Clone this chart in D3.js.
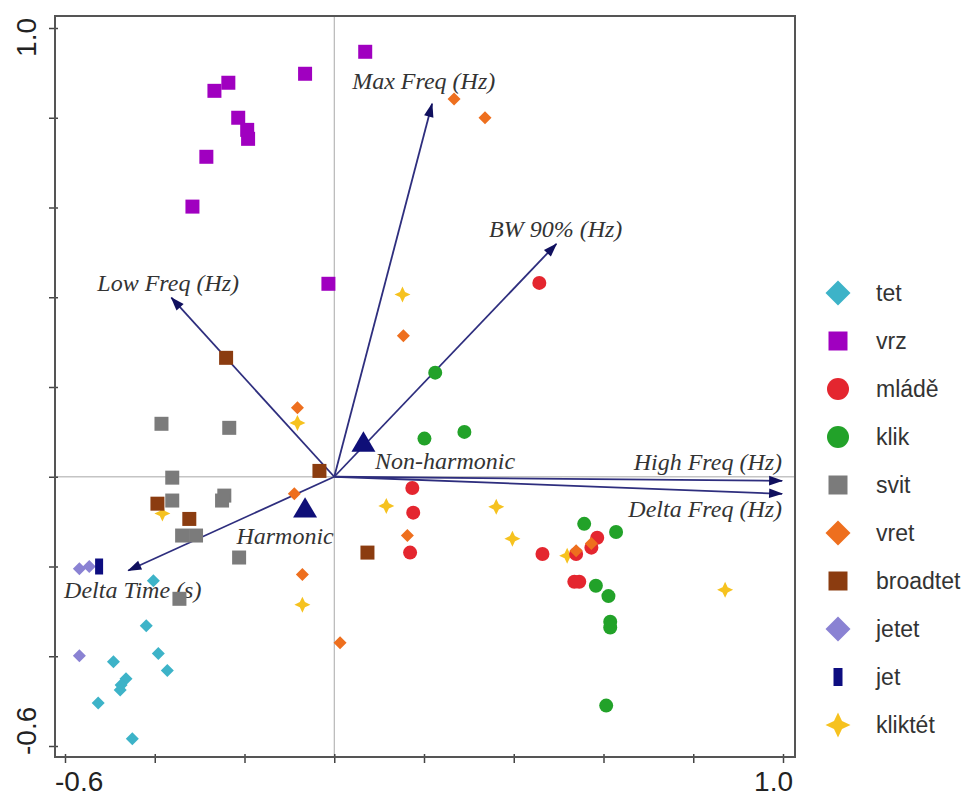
<!DOCTYPE html>
<html>
<head>
    <title>RDA biplot of call types</title>
    <script src="https://d3js.org/d3.v7.min.js"></script>
    <style>
        body { margin: 0; background: #fff; }
        svg { display: block; background: #fff; }
        .vec-label { font-family: "Liberation Serif", "Times New Roman", serif; font-style: italic; font-size: 24px; fill: #333; }
        .tick-label { font-family: "Liberation Sans", Arial, sans-serif; font-size: 28px; fill: #222; }
        .legend-text { font-family: "Liberation Sans", Arial, sans-serif; font-size: 23px; fill: #333; }
    </style>
</head>
<body>
<div id="chart"></div>
<script>
    const width = 975;
    const height = 799;

    // sample scores (axis 1, axis 2), per call type
    const tet = [[-0.403,-0.232],[-0.419,-0.332],[-0.492,-0.412],[-0.392,-0.394],[-0.372,-0.432],[-0.464,-0.450],[-0.475,-0.464],[-0.477,-0.475],[-0.526,-0.504],[-0.450,-0.584]];
    const vrz = [[0.069,0.947],[-0.065,0.898],[-0.236,0.878],[-0.267,0.860],[-0.214,0.800],[-0.194,0.773],[-0.192,0.753],[-0.285,0.713],[-0.316,0.602],[-0.013,0.430]];
    const mlade = [[0.457,0.432],[0.174,-0.025],[0.176,-0.080],[0.169,-0.169],[0.464,-0.172],[0.539,-0.172],[0.586,-0.136],[0.573,-0.158],[0.546,-0.234],[0.535,-0.234]];
    const klik = [[0.225,0.232],[0.201,0.085],[0.290,0.100],[0.557,-0.105],[0.628,-0.123],[0.583,-0.243],[0.611,-0.266],[0.615,-0.323],[0.615,-0.336],[0.606,-0.510]];
    const svit = [[-0.385,0.118],[-0.234,0.109],[-0.361,-0.002],[-0.361,-0.053],[-0.245,-0.042],[-0.250,-0.053],[-0.339,-0.131],[-0.308,-0.131],[-0.212,-0.180],[-0.345,-0.272]];
    const vret = [[0.267,0.842],[0.336,0.800],[0.154,0.314],[-0.082,0.154],[-0.089,-0.038],[0.163,-0.131],[-0.071,-0.218],[0.013,-0.370],[0.573,-0.149],[0.539,-0.165]];
    const broadtet = [[-0.241,0.265],[-0.033,0.013],[-0.394,-0.060],[-0.323,-0.094],[0.074,-0.169]];
    const jetet = [[-0.568,-0.205],[-0.546,-0.200],[-0.568,-0.399]];
    const jet = [[-0.524,-0.200]];
    const kliktet = [[0.152,0.406],[-0.082,0.120],[-0.383,-0.082],[0.116,-0.065],[0.361,-0.067],[0.397,-0.138],[0.519,-0.176],[-0.071,-0.285],[0.871,-0.252]];

    // nominal variable centroids
    const centroidNames = ['Non-harmonic', 'Harmonic'];
    const centroidX = [0.065, -0.065];
    const centroidY = [0.076, -0.071];
    const centroidLabelX = [0.091, -0.218];
    const centroidLabelY = [0.018, -0.149];

    // environmental vectors
    const vectorNames = ['Max Freq (Hz)', 'BW 90% (Hz)', 'Low Freq (Hz)', 'High Freq (Hz)', 'Delta Freq (Hz)', 'Delta Time (s)'];
    const vectorX = [0.218, 0.495, -0.363, 0.998, 0.998, -0.459];
    const vectorY = [0.831, 0.519, 0.399, -0.009, -0.038, -0.209];
    const vectorLabelX = [0.040, 0.345, -0.528, 0.998, 0.998, -0.602];
    const vectorLabelY = [0.865, 0.535, 0.414, 0.016, -0.089, -0.270];
    const vectorLabelAnchor = ['start', 'start', 'start', 'end', 'end', 'start'];

    const tickValues = [-0.6, -0.4, -0.2, 0, 0.2, 0.4, 0.6, 0.8, 1.0];

    // draw order matters a bit where points overlap
    const groups = [
        { name: 'kliktét', shape: 'star', color: '#f6c21f', pts: kliktet },
        { name: 'svit', shape: 'square', color: '#7b7b7b', pts: svit },
        { name: 'broadtet', shape: 'square', color: '#8b3c10', pts: broadtet },
        { name: 'tet', shape: 'diamond', color: '#3db3c8', pts: tet },
        { name: 'vrz', shape: 'square', color: '#a000c0', pts: vrz },
        { name: 'mládě', shape: 'circle', color: '#e4262f', pts: mlade },
        { name: 'klik', shape: 'circle', color: '#22a229', pts: klik },
        { name: 'vret', shape: 'diamond', color: '#ee6f1e', pts: vret },
        { name: 'jetet', shape: 'diamond', color: '#8a82d3', pts: jetet },
        { name: 'jet', shape: 'bar', color: '#0d0d80', pts: jet }
    ];
    const markSize = { star: 16, square: 14, diamond: 13, circle: 14, bar: 16 };
    const legendOrder = ['tet', 'vrz', 'mládě', 'klik', 'svit', 'vret', 'broadtet', 'jetet', 'jet', 'kliktét'];
    const legendSize = { star: 25, square: 19, diamond: 25, circle: 22, bar: 18 };

    function shapePath(shape, s) {
        const h = s / 2;
        if (shape === 'square') return `M${-h},${-h}H${h}V${h}H${-h}Z`;
        if (shape === 'diamond') return `M0,${-h}L${h},0L0,${h}L${-h},0Z`;
        if (shape === 'circle') return d3.symbol(d3.symbolCircle, Math.PI * h * h)();
        if (shape === 'bar') return `M${-h * 0.5},${-h}H${h * 0.5}V${h}H${-h * 0.5}Z`;
        if (shape === 'star') {
            const r = h * 0.32;
            return `M0,${-h}L${r},${-r}L${h},0L${r},${r}L0,${h}L${-r},${r}L${-h},0L${-r},${-r}Z`;
        }
        if (shape === 'triangle') return `M0,${-h * 0.95}L${h},${h * 0.75}L${-h},${h * 0.75}Z`;
    }

    const x = d3.scaleLinear().domain([-0.6, 1.0]).range([65, 783]);
    const y = d3.scaleLinear().domain([-0.6, 1.0]).range([746, 28]);

    const frame = { left: x(-0.6) - 10, right: x(1.0) + 12, top: y(1.0) - 12, bottom: y(-0.6) + 11 };

    const svg = d3.select('#chart').append('svg')
        .attr('width', width)
        .attr('height', height);

    // zero lines
    svg.append('line')
        .attr('x1', x(0)).attr('x2', x(0))
        .attr('y1', frame.top).attr('y2', frame.bottom)
        .attr('stroke', '#a8a8a8').attr('stroke-width', 1);
    svg.append('line')
        .attr('x1', frame.left).attr('x2', frame.right)
        .attr('y1', y(0)).attr('y2', y(0))
        .attr('stroke', '#c4c4c4').attr('stroke-width', 1.5);

    // ticks
    const xAxis = svg.append('g')
        .attr('transform', `translate(0,${frame.bottom - 3})`)
        .call(d3.axisBottom(x).tickValues(tickValues).tickSize(9).tickFormat(''));
    const yAxis = svg.append('g')
        .attr('transform', `translate(${frame.left + 3},0)`)
        .call(d3.axisLeft(y).tickValues(tickValues).tickSize(9).tickFormat(''));
    [xAxis, yAxis].forEach(g => {
        g.select('.domain').remove();
        g.selectAll('.tick line').attr('stroke', '#444').attr('stroke-width', 1.5);
    });

    // frame
    svg.append('rect')
        .attr('x', frame.left).attr('y', frame.top)
        .attr('width', frame.right - frame.left)
        .attr('height', frame.bottom - frame.top)
        .attr('fill', 'none')
        .attr('stroke', '#555')
        .attr('stroke-width', 2);

    // end tick labels
    svg.append('text').attr('class', 'tick-label')
        .attr('x', frame.left).attr('y', 791).text('-0.6');
    svg.append('text').attr('class', 'tick-label')
        .attr('x', frame.right - 2).attr('y', 791)
        .attr('text-anchor', 'end').text('1.0');
    svg.append('text').attr('class', 'tick-label')
        .attr('transform', `translate(36,${frame.top + 2}) rotate(-90)`)
        .attr('text-anchor', 'end').text('1.0');
    svg.append('text').attr('class', 'tick-label')
        .attr('transform', `translate(36,${frame.bottom - 2}) rotate(-90)`)
        .attr('text-anchor', 'start').text('-0.6');

    // arrow head
    svg.append('defs').append('marker')
        .attr('id', 'head')
        .attr('markerUnits', 'userSpaceOnUse')
        .attr('viewBox', '-14 -6 16 12')
        .attr('markerWidth', 16).attr('markerHeight', 12)
        .attr('refX', 0).attr('refY', 0)
        .attr('orient', 'auto')
        .append('path')
        .attr('d', 'M1,0L-13,-4.8L-13,4.8Z')
        .attr('fill', '#10105e');

    const vectors = vectorNames.map((name, i) => ({
        name, vx: vectorX[i], vy: vectorY[i],
        lx: vectorLabelX[i], ly: vectorLabelY[i], anchor: vectorLabelAnchor[i]
    }));

    svg.append('g').selectAll('line')
        .data(vectors)
        .join('line')
        .attr('x1', x(0)).attr('y1', y(0))
        .attr('x2', d => x(d.vx)).attr('y2', d => y(d.vy))
        .attr('stroke', '#2e2e7e')
        .attr('stroke-width', 1.8)
        .attr('marker-end', 'url(#head)');

    svg.append('g').selectAll('text')
        .data(vectors)
        .join('text')
        .attr('class', 'vec-label')
        .attr('x', d => x(d.lx)).attr('y', d => y(d.ly))
        .attr('text-anchor', d => d.anchor)
        .text(d => d.name);

    // sample points
    groups.forEach(g => {
        svg.append('g').selectAll('path')
            .data(g.pts)
            .join('path')
            .attr('transform', d => `translate(${x(d[0])},${y(d[1])})`)
            .attr('d', shapePath(g.shape, markSize[g.shape]))
            .attr('fill', g.color);
    });

    // centroids
    const centroids = centroidNames.map((name, i) => ({
        name, cx: centroidX[i], cy: centroidY[i], lx: centroidLabelX[i], ly: centroidLabelY[i]
    }));
    svg.append('g').selectAll('path')
        .data(centroids)
        .join('path')
        .attr('transform', d => `translate(${x(d.cx)},${y(d.cy)})`)
        .attr('d', shapePath('triangle', 24))
        .attr('fill', '#0f0f78');
    svg.append('g').selectAll('text')
        .data(centroids)
        .join('text')
        .attr('class', 'vec-label')
        .attr('x', d => x(d.lx)).attr('y', d => y(d.ly))
        .text(d => d.name);

    // legend
    const legend = svg.append('g').attr('transform', 'translate(838,293)');
    const rows = legend.selectAll('g')
        .data(legendOrder.map(n => groups.find(g => g.name === n)))
        .join('g')
        .attr('transform', (d, i) => `translate(0,${i * 48})`);
    rows.append('path')
        .attr('d', d => shapePath(d.shape, legendSize[d.shape]))
        .attr('fill', d => d.color);
    rows.append('text')
        .attr('class', 'legend-text')
        .attr('x', 38)
        .attr('y', 8)
        .text(d => d.name);
</script>
</body>
</html>
